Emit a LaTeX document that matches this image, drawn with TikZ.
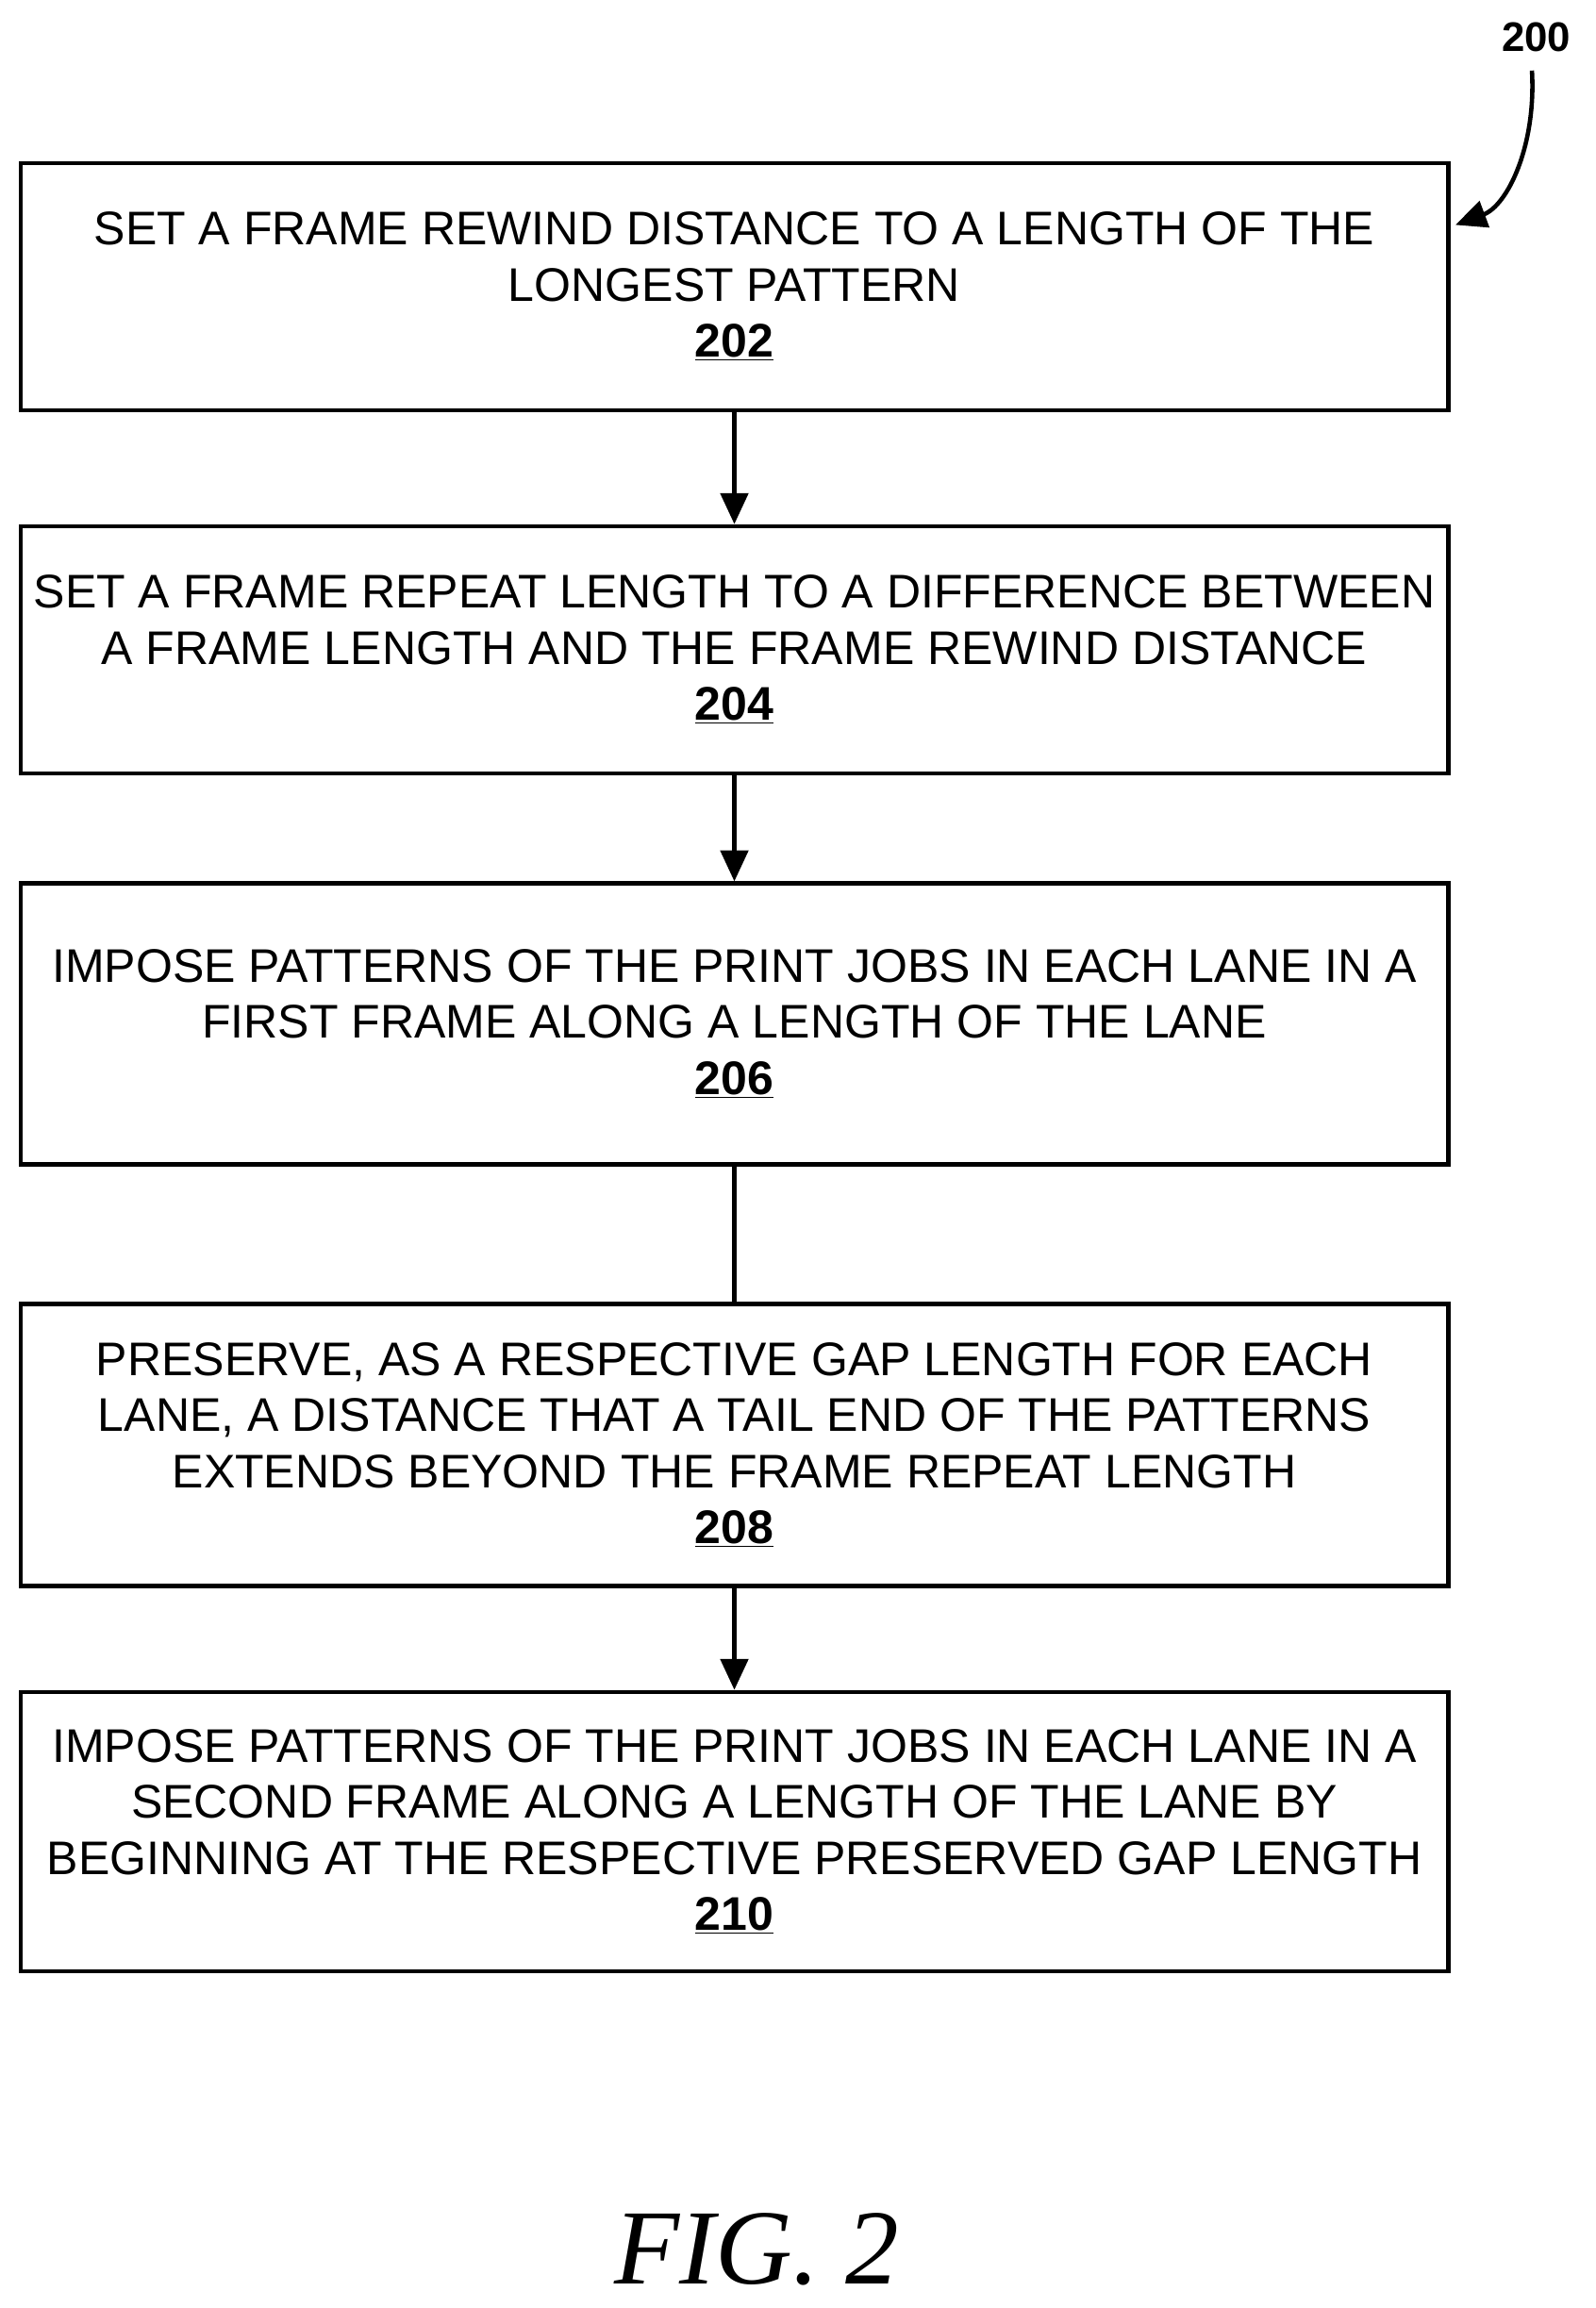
\documentclass[tikz,border=0pt]{standalone}
\usepackage{fontspec}
\setmainfont{Liberation Sans}
\newfontfamily\figfont{Liberation Serif}
\usetikzlibrary{arrows.meta, positioning}
\tikzset{
  stepbox/.style={draw, line width=2.5pt, minimum width=29.13cm, align=center,
    font=\fontsize{27.4}{32.5}\selectfont, inner sep=0pt},
  flow/.style={line width=2.5pt, -{Triangle[length=18pt,width=16pt]}}
}
\begin{document}
\begin{tikzpicture}[x=0.03cm,y=-0.03cm]
\useasboundingbox (0,0) rectangle (1085,1570);
\node[stepbox, minimum height=5.04cm] (s202) at (499.5,195)
  {SET A FRAME REWIND DISTANCE TO A LENGTH OF THE\\LONGEST PATTERN\\\textbf{\underline{202}}};
\node[stepbox, minimum height=5.04cm] (s204) at (499.5,442)
  {SET A FRAME REPEAT LENGTH TO A DIFFERENCE BETWEEN\\A FRAME LENGTH AND THE FRAME REWIND DISTANCE\\\textbf{\underline{204}}};
\node[stepbox, minimum height=5.73cm] (s206) at (499.5,696.5)
  {IMPOSE PATTERNS OF THE PRINT JOBS IN EACH LANE IN A\\FIRST FRAME ALONG A LENGTH OF THE LANE\\\textbf{\underline{206}}};
\node[stepbox, minimum height=5.76cm] (s208) at (499.5,983)
  {PRESERVE, AS A RESPECTIVE GAP LENGTH FOR EACH\\LANE, A DISTANCE THAT A TAIL END OF THE PATTERNS\\EXTENDS BEYOND THE FRAME REPEAT LENGTH\\\textbf{\underline{208}}};
\node[stepbox, minimum height=5.7cm] (s210) at (499.5,1246)
  {IMPOSE PATTERNS OF THE PRINT JOBS IN EACH LANE IN A\\SECOND FRAME ALONG A LENGTH OF THE LANE BY\\BEGINNING AT THE RESPECTIVE PRESERVED GAP LENGTH\\\textbf{\underline{210}}};
\draw[flow] (s202) -- (s204);
\draw[flow] (s204) -- (s206);
\draw[line width=2.5pt] (s206) -- (s208);
\draw[flow] (s208) -- (s210);
% reference label
\node[font=\bfseries\fontsize{24}{28}\selectfont] (ref) at (1045,25) {200};
\coordinate (refend) at (990,153);
\draw[flow] (1042,48) .. controls (1045,100) and (1025,140) .. (refend);
\node[font=\figfont\itshape\fontsize{62}{70}\selectfont] (fig) at (515,1530) {FIG. 2};
\end{tikzpicture}
\end{document}
